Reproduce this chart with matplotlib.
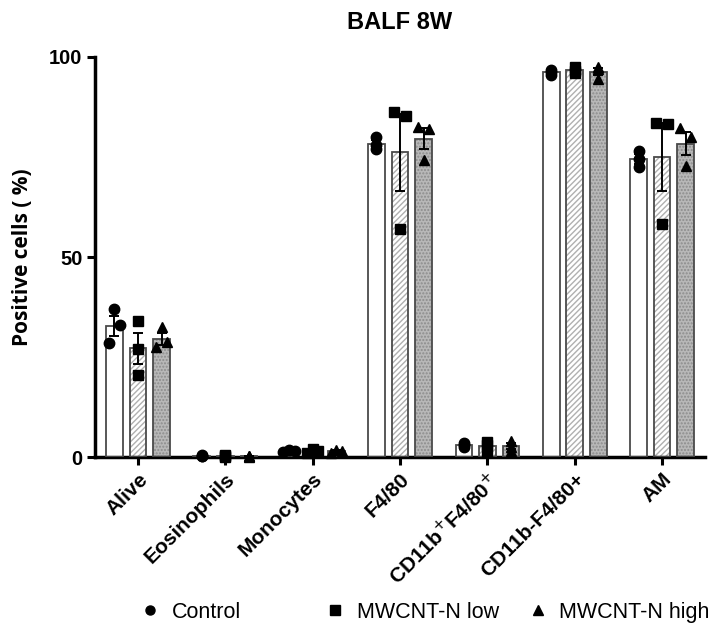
import numpy as np
import matplotlib
matplotlib.use("Agg")
import matplotlib.pyplot as plt
from matplotlib.lines import Line2D

plt.rcParams['font.family'] = ['Liberation Sans', 'DejaVu Sans']
plt.rcParams['hatch.linewidth'] = 1.0

categories = ["Alive", "Eosinophils", "Monocytes", "F4/80",
              "CD11b$^{+}$F4/80$^{+}$", "CD11b-F4/80+", "AM"]
groups = ["Control", "MWCNT-N low", "MWCNT-N high"]

# individual animal values (% positive cells), three per group
control = [[28.5, 33.0, 37.0],
           [0.3, 0.5, 0.2],
           [1.2, 1.8, 1.5],
           [77.0, 78.0, 80.0],
           [3.4, 3.0, 2.6],
           [95.5, 96.8, 96.2],
           [72.5, 74.5, 76.5]]
mwcnt_low = [[27.0, 34.0, 20.5],
             [0.2, 0.4, 0.1],
             [1.0, 2.0, 1.5],
             [86.3, 85.3, 57.0],
             [3.7, 1.3, 3.0],
             [96.5, 97.5, 96.0],
             [83.5, 83.3, 58.2]]
mwcnt_high = [[27.5, 28.8, 32.5],
              [0.1, 0.2, 0.3],
              [1.0, 1.8, 1.5],
              [82.5, 82.0, 74.3],
              [4.0, 2.6, 1.6],
              [97.5, 94.5, 97.0],
              [82.2, 80.0, 72.8]]
series = [control, mwcnt_low, mwcnt_high]

# horizontal scatter slot of each point (-1 left, 0 centre, 1 right)
spread_control = [[-1, 1, 0], [0, 0, 0], [-1, 0, 1], [0, 0, 0],
                  [0, 0, 0], [0, 0, 0], [0, 0, 0]]
spread_low = [[0, 0, 0], [0, 0, 0], [-1, 0, 1], [-1, 1, 0],
              [0, 0, 0], [0, 0, 0], [-1, 1, 0]]
spread_high = [[-1, 1, 0], [0, 0, 0], [-1, 0, 1], [-1, 1, 0],
               [0, 0, 0], [0, 0, 0], [-1, 1, 0]]
spreads = [spread_control, spread_low, spread_high]

fig = plt.figure(figsize=(7.15, 6.29), dpi=100)
ax = fig.add_axes([0.133, 0.2734, 0.853, 0.636])

x = np.arange(len(categories))
step = 0.27
width = 0.19
dx = 0.065
markers = ['o', 's', '^']
face = ['white', 'white', '#b8b8b8']
hatches = [None, '//////', '.....']
hatch_col = [None, '#b0b0b0', '#8c8c8c']

for gi, data in enumerate(series):
    arr = np.array(data)
    means = arr.mean(axis=1)
    sem = arr.std(axis=1, ddof=1) / np.sqrt(arr.shape[1])
    pos = x + (gi - 1) * step
    if hatches[gi]:
        ax.bar(pos, means, width, color=face[gi], hatch=hatches[gi],
               edgecolor=hatch_col[gi], linewidth=0, zorder=2)
    else:
        ax.bar(pos, means, width, color=face[gi], linewidth=0, zorder=2)
    ax.bar(pos, means, width, fill=False, edgecolor='#4a4a4a',
           linewidth=1.3, zorder=3)
    ax.errorbar(pos, means, yerr=sem, fmt='none', ecolor='black',
                elinewidth=1.4, capsize=3.5, capthick=1.4, zorder=4)
    sp = np.array(spreads[gi])
    for ci in range(len(categories)):
        ax.plot(pos[ci] + sp[ci] * dx, arr[ci], linestyle='none',
                marker=markers[gi], color='black', markersize=7.5,
                zorder=5, clip_on=False)

ax.set_xlim(-0.49, len(categories) - 0.51)
ax.set_ylim(0, 100)
ax.set_yticks([0, 50, 100])
ax.set_xticks(x)
ax.set_xticklabels(categories, rotation=45, ha='right', rotation_mode='anchor',
                   fontsize=15, fontweight='bold')
for lab in ax.get_yticklabels():
    lab.set_fontweight('bold')
    lab.set_fontsize(14.5)
ax.tick_params(axis='both', direction='out', length=6, width=2.2, pad=3)
for s in ['top', 'right']:
    ax.spines[s].set_visible(False)
for s in ['left', 'bottom']:
    ax.spines[s].set_linewidth(2.5)

ax.set_ylabel("Positive cells ( %)", fontsize=15, fontweight='bold',
              family=['Open Sans', 'DejaVu Sans'], labelpad=12)
ax.set_title("BALF 8W", fontsize=17, fontweight='bold', pad=20)

# legend entries placed individually along the bottom
legend_x = [0.195, 0.454, 0.737]
for gi, name in enumerate(groups):
    h = Line2D([], [], linestyle='none', marker=markers[gi], color='black',
               markersize=6.5)
    fig.legend([h], [name], loc='center left', bbox_to_anchor=(legend_x[gi], 0.027),
               frameon=False, fontsize=15.5, handletextpad=0.5,
               handlelength=1.0, borderpad=0, borderaxespad=0)

fig.savefig("out.png", dpi=100)
